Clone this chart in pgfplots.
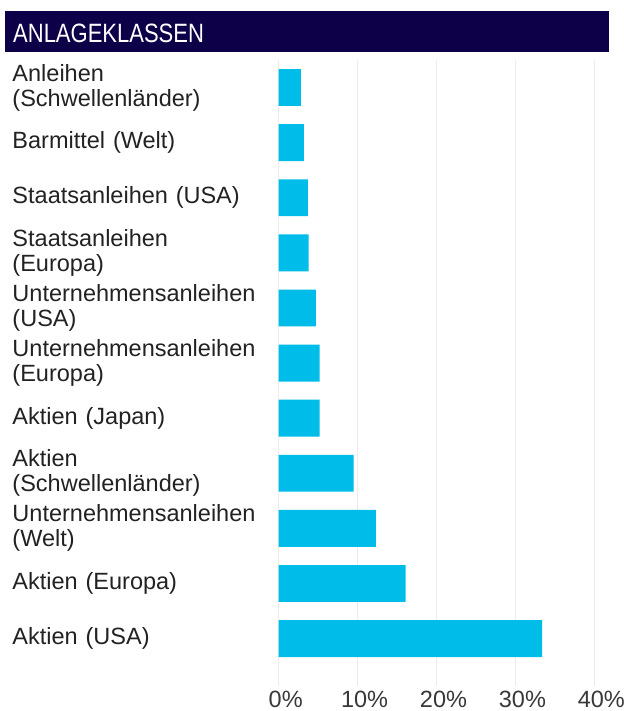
\documentclass[border=0pt]{standalone}
\usepackage{pgfplots}
\pgfplotsset{compat=1.18}
\usepackage{fontspec}
\setmainfont{Liberation Sans}
\newfontfamily\titlefont[FakeStretch=0.83]{Liberation Sans}
\definecolor{barblue}{RGB}{0,188,232}
\definecolor{navy}{RGB}{13,0,72}
\definecolor{gridgray}{RGB}{236,236,236}
\definecolor{txt}{RGB}{34,34,34}
\pgfplotstableread{
y val
0 33.4
1 16.1
2 12.3
3 9.5
4 5.2
5 5.2
6 4.7
7 3.8
8 3.7
9 3.2
10 2.8
}\datatable
\begin{document}
\begin{tikzpicture}[x=1bp,y=1bp]
\useasboundingbox (0,0) rectangle (624,711);
\fill[navy] (5,659) rectangle (609,700);
\node[anchor=base west, inner sep=0pt, text=white, font=\titlefont\fontsize{26.5bp}{30bp}\selectfont] at (13,668.7) {ANLAGEKLASSEN};
\begin{axis}[
  at={(278.7bp,25bp)}, anchor=south west,
  scale only axis, width=315.6bp, height=626bp,
  xbar, bar width=0.67,
  xmin=0, xmax=40, ymin=-0.86, ymax=10.5,
  xtick={0,10,20,30,40},
  xticklabel={\pgfmathprintnumber{\tick}\%},
  /pgf/number format/assume math mode=true,
  ytick={0,...,10},
  yticklabels={{Aktien (USA)},{Aktien (Europa)},{Unternehmensanleihen\\(Welt)},{Aktien\\(Schwellenländer)},{Aktien (Japan)},{Unternehmensanleihen\\(Europa)},{Unternehmensanleihen\\(USA)},{Staatsanleihen\\(Europa)},{Staatsanleihen (USA)},{Barmittel (Welt)},{Anleihen\\(Schwellenländer)}},
  axis line style={draw=none},
  major tick length=0pt,
  xmajorgrids, ymajorgrids=false,
  grid style={draw=gridgray, line width=1.5bp},
  yticklabel style={text width=266bp, align=left, anchor=east, inner sep=0pt, text=txt, font=\fontsize{23.5bp}{25bp}\selectfont},
  xticklabel style={anchor=base, inner sep=0pt, yshift=-21.5bp, xshift=7bp, text=txt!90, font=\fontsize{23.5bp}{25bp}\selectfont},
]
\addplot[fill=barblue, draw=none] table[x=val, y=y] {\datatable};
\end{axis}
\end{tikzpicture}
\end{document}
